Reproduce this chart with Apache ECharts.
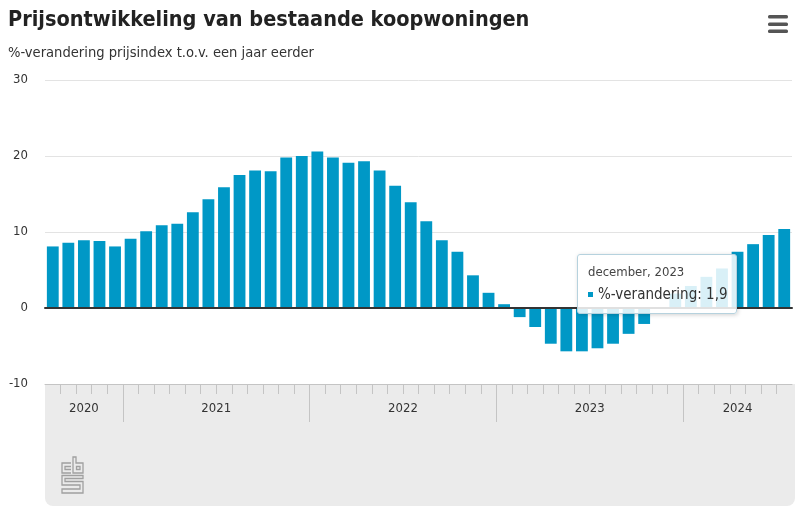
<!DOCTYPE html>
<html><head><meta charset="utf-8">
<script src="https://cdn.jsdelivr.net/npm/echarts@6/dist/echarts.min.js"></script>
<style>html,body{margin:0;padding:0;background:#fff}#c{width:800px;height:509px}</style>
</head><body><div id="c"></div>
<script>
// ---- data ----
const months = [
  'augustus, 2020','september, 2020','oktober, 2020','november, 2020','december, 2020',
  'januari, 2021','februari, 2021','maart, 2021','april, 2021','mei, 2021','juni, 2021',
  'juli, 2021','augustus, 2021','september, 2021','oktober, 2021','november, 2021','december, 2021',
  'januari, 2022','februari, 2022','maart, 2022','april, 2022','mei, 2022','juni, 2022',
  'juli, 2022','augustus, 2022','september, 2022','oktober, 2022','november, 2022','december, 2022',
  'januari, 2023','februari, 2023','maart, 2023','april, 2023','mei, 2023','juni, 2023',
  'juli, 2023','augustus, 2023','september, 2023','oktober, 2023','november, 2023','december, 2023',
  'januari, 2024','februari, 2024','maart, 2024','april, 2024','mei, 2024','juni, 2024','juli, 2024'
];
const values = [
  8.1, 8.6, 8.9, 8.8, 8.1,
  9.1, 10.1, 10.9, 11.1, 12.6, 14.3, 15.9, 17.5, 18.1, 18.0, 19.8, 20.0,
  20.6, 19.8, 19.1, 19.3, 18.1, 16.1, 13.9, 11.4, 8.9, 7.4, 4.3, 2.0,
  0.5, -1.2, -2.5, -4.7, -5.7, -5.7, -5.3, -4.7, -3.4, -2.1, 0.1, 1.9,
  2.9, 4.1, 5.2, 7.4, 8.4, 9.6, 10.4
];
const yearLabels = ['2020', '2021', '2022', '2023', '2024'];
const yMin = -10, yMax = 30, yStep = 10;
const seriesName = '%-verandering';
const titleText = 'Prijsontwikkeling van bestaande koopwoningen';
const subtitleText = '%-verandering prijsindex t.o.v. een jaar eerder';
const tooltipMonth = 'december, 2023';

// ---- derived axis positions (in category units) ----
const yearOf = m => m.split(', ')[1];
const firstIdx = yearLabels.map(y => months.findIndex(m => yearOf(m) === y));
const lastIdx = yearLabels.map(y => { let l = -1; months.forEach((m, i) => { if (yearOf(m) === y) l = i; }); return l; });
const yearCenters = yearLabels.map((y, i) => (firstIdx[i] + lastIdx[i] + 1) / 2);
const yearBounds = firstIdx.slice(1);
const monthBounds = months.map((m, i) => i).filter(i => i > 0 && yearBounds.indexOf(i) < 0);

const FONT = "'Liberation Sans Narrow','DejaVu Sans Condensed','Noto Sans',sans-serif";
const BLUE = '#0098c6';

const chart = echarts.init(document.getElementById('c'), null, { renderer: 'canvas' });
chart.setOption({
  animation: false,
  backgroundColor: '#fff',
  textStyle: { fontFamily: FONT },
  title: [
    { text: titleText, left: 3, top: 4, textStyle: { fontSize: 21.5, fontWeight: 'bold', color: '#222', fontFamily: FONT } },
    { text: subtitleText, left: 3, top: 41, textStyle: { fontSize: 14.6, fontWeight: 'normal', color: '#333', fontFamily: FONT } }
  ],
  grid: { left: 45, right: 8, top: 80, bottom: 125 },
  xAxis: [
    { type: 'category', data: months, axisLine: { onZero: true, lineStyle: { color: '#333', width: 2 } },
      axisTick: { show: false }, axisLabel: { show: false }, z: 5 },
    { type: 'value', min: 0, max: months.length, position: 'bottom',
      axisLine: { show: true, onZero: false, lineStyle: { color: '#c4c4c4', width: 1 } },
      splitLine: { show: false },
      axisTick: { show: true, customValues: monthBounds, length: 10, lineStyle: { color: '#c4c4c4' } },
      axisLabel: { customValues: yearCenters, formatter: v => yearLabels[yearCenters.indexOf(v)],
                   margin: 18, color: '#333', fontSize: 13, fontFamily: FONT } },
    { type: 'value', min: 0, max: months.length, position: 'bottom',
      axisLine: { show: false, onZero: false }, splitLine: { show: false },
      axisTick: { show: true, customValues: yearBounds, length: 38, lineStyle: { color: '#c4c4c4' } },
      axisLabel: { show: false } }
  ],
  yAxis: {
    type: 'value', min: yMin, max: yMax, interval: yStep,
    axisLine: { show: false }, axisTick: { show: false },
    axisLabel: { color: '#333', fontSize: 13, margin: 17, fontFamily: FONT },
    splitLine: { lineStyle: { color: '#e3e3e3', width: 1 } }
  },
  tooltip: {
    trigger: 'item', alwaysShowContent: true, transitionDuration: 0, showDelay: 0,
    position: [577, 254],
    backgroundColor: 'rgba(255,255,255,0.85)', borderColor: '#b6d2de', borderWidth: 1,
    padding: [8, 10, 8, 10],
    extraCssText: 'box-shadow:1px 1px 4px rgba(0,0,0,0.18);border-radius:3px;width:138px;',
    formatter: p => '<div style="font-family:' + FONT.replace(/'/g, '') + ';font-size:13px;color:#444;line-height:18px">' + p.name + '</div>' +
      '<div style="font-family:' + FONT.replace(/'/g, '') + ';font-size:15px;color:#333;line-height:22px;margin-top:2px">' +
      '<span style="display:inline-block;width:5px;height:5px;background:' + BLUE + ';vertical-align:middle;margin-right:5px"></span>' +
      seriesName + ': ' + String(p.value).replace('.', ',') + '</div>'
  },
  series: [{
    type: 'bar', name: seriesName, data: values, xAxisIndex: 0,
    itemStyle: { color: BLUE }, barCategoryGap: '24%',
    emphasis: { disabled: true }
  }],
  graphic: [
    { type: 'rect', z: -10, shape: { x: 45, y: 384, width: 750, height: 122, r: [0, 0, 8, 8] },
      style: { fill: '#ebebeb' }, silent: true },
    { type: 'group', silent: true, children: [
      { type: 'rect', shape: { x: 768, y: 15, width: 20, height: 3.4, r: 1.5 }, style: { fill: '#555' } },
      { type: 'rect', shape: { x: 768, y: 22.5, width: 20, height: 3.4, r: 1.5 }, style: { fill: '#555' } },
      { type: 'rect', shape: { x: 768, y: 29.5, width: 20, height: 3.4, r: 1.5 }, style: { fill: '#555' } }
    ]},
    { type: 'group', silent: true, children: [
      { type: 'polyline', shape: { points: [[71,463],[62,463],[62,473],[71,473]] }, style: { stroke: '#a0a0a0', lineWidth: 1.3, fill: null } },
      { type: 'polyline', shape: { points: [[71,466.5],[65,466.5],[65,469.5],[71,469.5]] }, style: { stroke: '#a0a0a0', lineWidth: 1.3, fill: null } },
      { type: 'polygon', shape: { points: [[73,457],[76,457],[76,463],[83,463],[83,473],[73,473]] }, style: { stroke: '#a0a0a0', lineWidth: 1.3, fill: null } },
      { type: 'rect', shape: { x: 76.5, y: 466.5, width: 3.5, height: 3 }, style: { stroke: '#a0a0a0', lineWidth: 1.3, fill: null } },
      { type: 'polygon', shape: { points: [[83,475.5],[62,475.5],[62,485],[80,485],[80,489],[62,489],[62,493],[83,493],[83,481.5],[65,481.5],[65,478.5],[83,478.5]] }, style: { stroke: '#a0a0a0', lineWidth: 1.3, fill: null } }
    ]}
  ]
});
chart.dispatchAction({ type: 'showTip', seriesIndex: 0, dataIndex: months.indexOf(tooltipMonth) });
</script>
</body></html>
